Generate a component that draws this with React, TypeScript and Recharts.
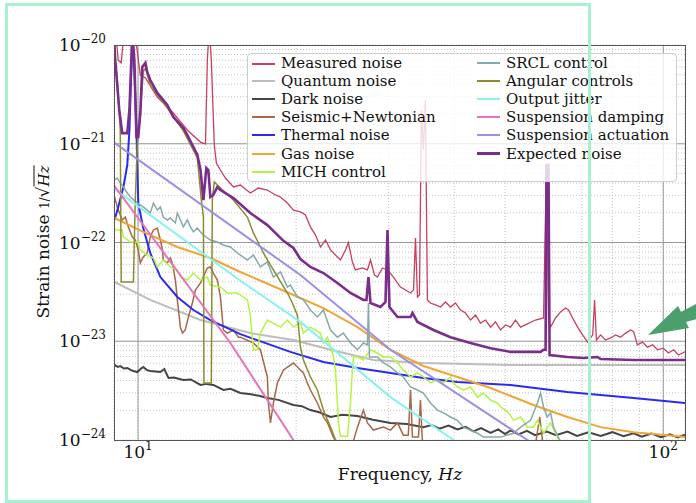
import React from 'react'
import { LineChart, Line, XAxis, YAxis, CartesianGrid, ReferenceLine } from 'recharts'

const FONT = '"DejaVu Serif", serif'

// [frequency Hz, strain 1/sqrt(Hz)]
const measured: [number, number][] = [
  [9.0, 2e-20], [9.17, 7.0e-21], [9.29, 6.6e-21], [9.42, 1.5e-20], [9.67, 3e-20], [10.1, 4.97e-21],
  [10.33, 4.63e-21], [10.88, 2.97e-21], [11.67, 2.05e-21], [12.41, 1.38e-21], [13.15, 1.04e-21],
  [13.44, 1.0e-21], [13.55, 7.0e-21], [13.67, 1.5e-20], [13.79, 7.0e-21], [13.97, 9.7e-22],
  [14.1, 6.38e-22], [14.35, 5.42e-22], [14.67, 4.5e-22], [15.19, 3.65e-22], [15.66, 3.82e-22],
  [16.36, 3.17e-22], [16.95, 3.56e-22], [17.63, 3.4e-22], [18.26, 3.03e-22], [18.67, 2.89e-22],
  [19.25, 2.51e-22], [19.76, 2.13e-22], [20.38, 2.04e-22], [20.83, 1.9e-22], [21.29, 1.44e-22],
  [21.77, 1.19e-22], [22.25, 9.0e-23], [22.75, 1.06e-22], [23.25, 8.4e-23], [23.76, 7.47e-23],
  [24.29, 6.65e-23], [24.83, 8.4e-23], [25.15, 1.0e-22], [25.59, 6.35e-23], [25.93, 5.27e-23],
  [26.74, 5.52e-23], [27.34, 5.27e-23], [27.71, 6.65e-23], [28.19, 4.69e-23], [28.56, 4.47e-23],
  [29.2, 5.52e-23], [29.85, 5.27e-23], [30.64, 4.47e-23], [31.19, 3.89e-23], [31.6, 3.54e-23],
  [32.3, 3.3e-23], [33.02, 3.08e-23], [33.46, 3.3e-23], [33.75, 1.11e-22], [34.04, 2.81e-23],
  [34.34, 2.94e-23], [34.64, 2.2e-21], [34.94, 8.64e-22], [35.25, 2.77e-21], [35.56, 2.62e-23],
  [36.04, 2.44e-23], [36.84, 2.33e-23], [37.66, 2.22e-23], [38.49, 2.5e-23], [39.35, 2.22e-23],
  [40.22, 2.44e-23], [41.11, 2.07e-23], [42.03, 1.93e-23], [42.96, 1.64e-23], [43.91, 1.84e-23],
  [44.88, 1.53e-23], [45.88, 1.64e-23], [46.9, 1.39e-23], [47.94, 1.57e-23], [49.0, 1.3e-23],
  [50.08, 1.46e-23], [51.2, 1.39e-23], [52.33, 1.64e-23], [53.5, 1.39e-23], [55.14, 1.5e-23],
  [57.11, 1.64e-23], [59.16, 1.72e-23], [59.94, 6.09e-22], [60.47, 1.64e-23], [61.02, 1.39e-23],
  [62.36, 1.72e-23], [63.76, 1.98e-23], [65.17, 2.17e-23], [66.0, 2.07e-23], [67.2, 1.72e-23],
  [68.7, 1.39e-23], [70.2, 1.16e-23], [71.8, 9.8e-24], [73.4, 1.16e-23], [74.0, 2.62e-23],
  [74.6, 1.03e-23], [76.0, 1.16e-23], [77.6, 1.03e-23], [79.4, 1.08e-23], [81.1, 1.16e-23],
  [82.95, 1.1e-23], [84.8, 1.21e-23], [86.7, 1.3e-23], [87.8, 1.25e-23], [89.3, 9.2e-24],
  [91.3, 9.8e-24], [93.3, 8.7e-24], [95.4, 9.2e-24], [97.5, 8.2e-24], [100, 8.5e-24],
  [102.3, 7.6e-24], [104.6, 8.2e-24], [106.9, 7.26e-24], [110, 7.8e-24],
]

const quantum: [number, number][] = [
  [9.02, 3.98e-23], [10.55, 2.62e-23], [13.15, 1.64e-23], [16.36, 1.21e-23], [19.76, 1.03e-23],
  [23.25, 8.2e-24], [28.06, 6.46e-24], [34.94, 6.02e-24], [51.2, 5.75e-24], [76, 5.75e-24], [110, 5.75e-24],
]

const dark: [number, number][] = [
  [9.02, 5.75e-24], [9.15, 5.5e-24], [9.25, 5.6e-24], [9.4, 5.3e-24], [9.54, 5.36e-24], [9.7, 5.1e-24],
  [9.8, 5.0e-24], [9.97, 4.88e-24], [10.1, 5.2e-24], [10.23, 5.49e-24], [10.4, 5.1e-24], [10.55, 5.0e-24],
  [10.8, 4.95e-24], [11.03, 4.88e-24], [11.22, 5.24e-24], [11.43, 4.25e-24], [11.7, 4.3e-24],
  [12.2, 4.05e-24], [12.6, 4.1e-24], [13.15, 3.61e-24], [13.5, 3.7e-24], [13.91, 3.61e-24],
  [14.54, 3.21e-24], [15.0, 3.3e-24], [15.66, 2.99e-24], [16.4, 2.9e-24], [17.0, 2.8e-24],
  [17.63, 2.66e-24], [18.5, 2.55e-24], [19.76, 2.26e-24], [20.5, 2.2e-24], [21.29, 2.01e-24],
  [22.2, 1.9e-24], [23.25, 1.71e-24], [24.5, 1.8e-24], [26.17, 1.75e-24], [28.0, 1.6e-24],
  [30.24, 1.49e-24], [32.5, 1.45e-24], [34.94, 1.35e-24], [36.2, 1.42e-24], [37.5, 1.3e-24],
  [39.0, 1.4e-24], [40.57, 1.28e-24], [42.0, 1.36e-24], [43.5, 1.22e-24], [45.0, 1.32e-24],
  [46.9, 1.18e-24], [48.5, 1.28e-24], [50.0, 1.15e-24], [51.2, 1.25e-24], [53.0, 1.14e-24],
  [55.0, 1.24e-24], [57.0, 1.12e-24], [60.0, 1.22e-24], [62.5, 1.12e-24], [65.7, 1.22e-24],
  [68.5, 1.1e-24], [72, 1.2e-24], [76, 1.1e-24], [80, 1.2e-24], [84, 1.09e-24], [87.8, 1.17e-24],
  [91, 1.08e-24], [95, 1.16e-24], [99, 1.07e-24], [103, 1.14e-24], [106.5, 1.06e-24], [110, 1.13e-24],
]

const seismic: [number, number][] = [
  [9.0, 3.03e-22], [9.13, 2.29e-22], [9.33, 1.69e-22], [9.46, 1.81e-22], [9.58, 1.44e-22],
  [9.75, 1.14e-22], [9.88, 1.06e-22], [10.01, 8.4e-23], [10.1, 6.2e-23], [10.23, 7.13e-23],
  [10.41, 7.83e-23], [10.55, 1.14e-22], [10.7, 1.34e-22], [10.88, 1.4e-22], [11.03, 1.06e-22],
  [11.13, 8.4e-23], [11.17, 6.65e-23], [11.37, 6.2e-23], [11.52, 6.97e-23], [11.62, 6.2e-23],
  [11.78, 4.17e-23], [11.88, 2.62e-23], [12.04, 1.39e-23], [12.15, 1.21e-23], [12.3, 1.3e-23],
  [12.47, 1.76e-23], [12.69, 2.44e-23], [12.86, 3.3e-23], [13.15, 3.89e-23], [13.55, 5.52e-23],
  [13.73, 5.65e-23], [13.91, 4.91e-23], [14.16, 4.17e-23], [14.35, 2.81e-23], [14.54, 1.3e-23],
  [14.8, 1.21e-23], [15.19, 1.3e-23], [15.53, 1.1e-23], [15.66, 1.1e-23], [16.58, 9.6e-24],
  [17.1, 8.2e-24], [17.63, 4.35e-24], [17.71, 2.37e-24], [17.87, 1.49e-24], [18.1, 2.37e-24],
  [18.42, 3.78e-24], [18.92, 5.12e-24], [19.76, 6.02e-24], [20.38, 5.12e-24], [20.65, 4.77e-24],
  [21.01, 3.78e-24], [21.29, 3.21e-24], [21.95, 2.37e-24], [22.54, 1.71e-24], [22.95, 1.49e-24],
  [23.55, 1.07e-24], [23.97, 9e-25], [25.59, 9e-25], [26.17, 1.35e-24], [26.86, 2.01e-24],
  [27.34, 1.49e-24], [28.06, 1.26e-24], [29.33, 1.35e-24], [30.24, 1.26e-24], [31.19, 1.49e-24],
  [32.0, 1.12e-24], [32.7, 1.12e-24], [33.02, 3.21e-24], [33.3, 1.07e-24], [34.2, 1.07e-24],
  [34.49, 2.54e-24], [34.8, 9e-25], [57.1, 9e-25], [58.2, 1.71e-24], [59.0, 9e-25],
]

const thermal: [number, number][] = [
  [9.02, 1.69e-22], [9.17, 2.29e-22], [9.38, 3.65e-22], [9.54, 6.09e-22], [9.63, 1.38e-21],
  [9.71, 5.58e-21], [9.77, 1.2e-20], [9.84, 5.58e-21], [9.93, 1.38e-21], [10.01, 2.51e-22],
  [10.23, 1.4e-22], [10.55, 7.83e-23], [11.03, 4.47e-23], [11.88, 2.81e-23], [12.75, 2.07e-23],
  [13.73, 1.64e-23], [15.66, 1.18e-23], [19.5, 7.8e-24], [22.54, 6.16e-24], [26.17, 5.36e-24],
  [30.24, 4.77e-24], [34.94, 4.25e-24], [40.57, 3.87e-24], [51.2, 3.61e-24], [65.7, 3.06e-24],
  [87.8, 2.66e-24], [110, 2.37e-24],
]

const gas: [number, number][] = [
  [9.02, 1.77e-22], [10.23, 1.28e-22], [11.88, 9.0e-23], [13.73, 6.97e-23], [15.66, 5.03e-23],
  [20.38, 2.74e-23], [22.54, 2.17e-23], [26.17, 1.39e-23], [30.24, 8.2e-24], [34.94, 5.62e-24],
  [40.57, 4.35e-24], [46.9, 3.36e-24], [56.6, 2.26e-24], [65.7, 1.71e-24], [76, 1.35e-24],
  [87.8, 1.2e-24], [101.9, 1.12e-24], [110, 1.07e-24],
]

const mich: [number, number][] = [
  [9.02, 1.34e-22], [9.33, 1.34e-22], [9.38, 1.14e-22], [9.67, 1.01e-22], [10.0, 1.01e-22],
  [10.1, 8.4e-23], [10.41, 7.47e-23], [10.7, 6.97e-23], [10.88, 5.65e-23], [11.17, 6.65e-23],
  [11.52, 5.65e-23], [11.88, 5.27e-23], [12.04, 4.47e-23], [12.41, 4.17e-23], [12.75, 4.91e-23],
  [13.15, 4.17e-23], [13.55, 4.47e-23], [13.73, 3.71e-23], [14.35, 3.54e-23], [14.8, 3.08e-23],
  [15.46, 3.08e-23], [15.66, 2.94e-23], [16.15, 2.62e-23], [16.36, 1.84e-23], [16.58, 8.2e-24],
  [16.88, 8.2e-24], [17.1, 1.21e-23], [17.63, 1.64e-23], [18.67, 1.39e-23], [19.25, 1.64e-23],
  [19.76, 1.39e-23], [20.38, 1.53e-23], [20.65, 1.21e-23], [21.29, 1.39e-23], [22.25, 1.21e-23],
  [22.54, 9.6e-24], [22.95, 1.1e-23], [23.25, 8.7e-24], [23.55, 6.93e-24], [23.76, 5.12e-24],
  [23.97, 2.37e-24], [24.08, 1.49e-24], [24.29, 1.09e-24], [25.05, 1.09e-24], [25.38, 2.37e-24],
  [25.59, 5.12e-24], [25.7, 6.93e-24], [26.17, 6.93e-24], [26.86, 6.46e-24], [27.71, 8.2e-24],
  [28.56, 7.6e-24], [29.33, 6.93e-24], [30.24, 6.93e-24], [31.19, 6.02e-24], [32.0, 5.12e-24],
  [33.02, 4.35e-24], [34.04, 4.77e-24], [34.94, 4.35e-24], [36.04, 3.78e-24], [37.16, 4.05e-24],
  [38.15, 3.78e-24], [39.35, 4.35e-24], [39.87, 3.78e-24], [40.57, 3.44e-24], [41.65, 3.21e-24],
  [42.96, 3.44e-24], [44.3, 2.72e-24], [45.46, 2.99e-24], [46.9, 2.54e-24], [48.35, 2.37e-24],
  [49.0, 2.17e-24], [50.8, 1.88e-24], [51.87, 1.58e-24], [53.5, 1.71e-24], [55.14, 1.35e-24],
  [56.6, 1.35e-24], [57.6, 1.58e-24], [59.16, 1.17e-24], [61.02, 1.49e-24], [62.9, 1.07e-24],
  [63.76, 9e-25],
]

const srcl: [number, number][] = [
  [9.02, 4.3e-22], [9.13, 4.5e-22], [9.25, 4.0e-22], [9.38, 3.65e-22], [9.54, 3.17e-22],
  [9.67, 2.89e-22], [9.97, 2.51e-22], [10.23, 2.29e-22], [10.41, 2.13e-22], [10.55, 1.99e-22],
  [10.7, 2.51e-22], [10.88, 2.13e-22], [11.03, 2.29e-22], [11.17, 1.81e-22], [11.37, 1.69e-22],
  [11.52, 1.77e-22], [11.78, 1.58e-22], [11.88, 1.99e-22], [12.04, 1.69e-22], [12.2, 1.44e-22],
  [12.41, 1.69e-22], [12.58, 1.44e-22], [12.75, 1.28e-22], [12.97, 1.4e-22], [13.15, 1.28e-22],
  [13.32, 1.19e-22], [13.73, 1.06e-22], [14.16, 1.01e-22], [14.54, 9.43e-23], [14.99, 9.0e-23],
  [15.46, 7.83e-23], [16.15, 6.65e-23], [16.58, 7.47e-23], [17.1, 5.65e-23], [17.63, 6.35e-23],
  [18.1, 4.47e-23], [18.67, 5.03e-23], [19.25, 3.54e-23], [19.5, 3.71e-23], [20.11, 2.81e-23],
  [20.65, 2.62e-23], [21.29, 2.07e-23], [21.95, 1.76e-23], [22.54, 2.07e-23], [23.25, 1.3e-23],
  [23.97, 1.1e-23], [24.6, 1.21e-23], [25.38, 9.6e-24], [26.17, 8.2e-24], [26.86, 9.6e-24],
  [27.34, 9.2e-24], [27.46, 2.44e-23], [27.58, 6.93e-24], [28.56, 6.93e-24], [29.33, 6.02e-24],
  [30.24, 5.49e-24], [31.19, 4.77e-24], [32.0, 4.35e-24], [33.02, 3.44e-24], [34.04, 3.21e-24],
  [34.94, 2.99e-24], [36.04, 2.37e-24], [37.16, 2.01e-24], [38.15, 1.88e-24], [39.35, 1.71e-24],
  [40.57, 1.58e-24], [41.65, 1.35e-24], [42.96, 1.26e-24], [44.3, 1.17e-24], [45.46, 1.07e-24],
  [46.9, 1.07e-24], [49.0, 1.07e-24], [51.87, 1.17e-24], [53.5, 1.35e-24], [55.9, 1.58e-24],
  [57.6, 2.37e-24], [58.4, 2.99e-24], [59.16, 2.17e-24], [60.1, 1.71e-24], [61.02, 1.88e-24],
  [61.8, 1.35e-24], [63.1, 1.07e-24], [64.2, 9e-25],
]

const angular: [number, number][] = [
  [9.02, 7.9e-21], [9.13, 4.4e-21], [9.25, 1.38e-21], [9.29, 3.98e-23], [9.8, 3.98e-23],
  [9.88, 2.69e-22], [9.97, 9.7e-22], [10.1, 1.95e-21], [10.23, 5.33e-21], [10.33, 5.85e-21],
  [10.55, 3.94e-21], [11.37, 2.3e-21], [12.2, 1.35e-21], [12.97, 7.17e-22], [13.2, 2.69e-22],
  [13.32, 1.81e-22], [13.35, 3.78e-24], [13.79, 3.78e-24], [13.85, 2.69e-22], [13.97, 4.1e-22],
  [14.16, 3.82e-22], [15.19, 2.69e-22], [16.15, 1.81e-22], [16.58, 1.25e-22], [17.33, 7.83e-23],
  [18.1, 5.27e-23], [19.25, 3.08e-23], [19.67, 2.44e-23], [20.11, 1.84e-23], [20.38, 8.7e-24],
  [20.65, 6.46e-24], [21.29, 4.35e-24], [21.95, 3.21e-24], [22.54, 2.01e-24], [23.25, 1.35e-24],
  [23.97, 9e-25],
]

const jitter: [number, number][] = [
  [9.02, 3.48e-22], [15.66, 4.1e-23], [20.38, 1.57e-23], [30.24, 2.72e-24], [39.87, 1.0e-24], [41.1, 8.9e-25],
]

const damping: [number, number][] = [
  [9.02, 3.73e-22], [14.99, 9.6e-24], [19.76, 1.0e-24], [20.38, 7.9e-25],
]

const actuation: [number, number][] = [
  [9.02, 1.02e-21], [20.38, 4.69e-23], [30.24, 8.2e-24], [55.14, 1.0e-24], [57.1, 8.7e-25],
]

const expected: [number, number][] = [
  [9.0, 1.2e-20], [9.05, 7.0e-21], [9.21, 2.2e-21], [9.33, 1.28e-21], [9.54, 1.28e-21],
  [9.63, 2.2e-21], [9.71, 7e-21], [9.75, 1.3e-20], [9.84, 7e-21], [9.93, 1.17e-21],
  [10.01, 1.17e-21], [10.1, 2.05e-21], [10.19, 5.99e-21], [10.33, 6.6e-21], [10.41, 5.33e-21],
  [10.55, 4.42e-21], [10.88, 3.27e-21], [11.37, 2.47e-21], [11.67, 1.87e-21], [12.2, 1.44e-21],
  [12.41, 1.23e-21], [12.97, 7.69e-22], [13.15, 5.42e-22], [13.32, 2.69e-22], [13.49, 5.68e-22],
  [13.61, 5.42e-22], [13.73, 2.89e-22], [13.91, 3.03e-22], [14.16, 3.65e-22], [14.35, 3.4e-22],
  [15.19, 2.82e-22], [16.36, 1.99e-22], [17.63, 1.5e-22], [18.92, 1.04e-22], [19.76, 8.8e-23],
  [20.38, 6.8e-23], [21.29, 5.65e-23], [22.54, 4.91e-23], [23.97, 3.89e-23], [25.38, 3.08e-23],
  [26.86, 2.62e-23], [27.22, 2.62e-23], [27.46, 4.47e-23], [27.71, 2.44e-23], [28.94, 2.22e-23],
  [29.59, 2.5e-23], [29.85, 1.34e-22], [30.11, 2.22e-23], [31.19, 1.76e-23], [33.02, 1.76e-23],
  [33.31, 1.93e-23], [34.04, 1.57e-23], [36.52, 1.3e-23], [39.35, 1.1e-23], [42.96, 9.6e-24],
  [46.9, 8.5e-24], [51.2, 7.8e-24], [58.4, 7.8e-24], [59.16, 8.2e-24], [59.7, 8.2e-24],
  [59.94, 6.09e-22], [60.47, 6.09e-22], [60.75, 7.26e-24], [65.73, 6.93e-24], [70.5, 6.77e-24],
  [74.97, 6.93e-24], [75.98, 6.61e-24], [87.8, 6.46e-24], [110, 6.46e-24],
]

const xMajor = [10, 100]
const xMinor = [20, 30, 40, 50, 60, 70, 80, 90]
const yMajor = [1e-24, 1e-23, 1e-22, 1e-21, 1e-20]
const yMinor = yMajor.slice(0, -1).flatMap((d) => [2, 3, 4, 5, 6, 7, 8, 9].map((k) => k * d))

const series = [
  { name: 'Measured noise', data: measured, color: '#c8405f', width: 1.3 },
  { name: 'Quantum noise', data: quantum, color: '#bdbdbd', width: 2 },
  { name: 'Dark noise', data: dark, color: '#454545', width: 2 },
  { name: 'Seismic+Newtonian', data: seismic, color: '#a5694a', width: 1.5 },
  { name: 'Thermal noise', data: thermal, color: '#2b2bf0', width: 2 },
  { name: 'Gas noise', data: gas, color: '#f0a535', width: 2 },
  { name: 'MICH control', data: mich, color: '#b4f542', width: 1.5 },
  { name: 'SRCL control', data: srcl, color: '#86aaaa', width: 1.5 },
  { name: 'Angular controls', data: angular, color: '#8c8c2e', width: 1.5 },
  { name: 'Output jitter', data: jitter, color: '#88f2f2', width: 2 },
  { name: 'Suspension damping', data: damping, color: '#e674bb', width: 2 },
  { name: 'Suspension actuation', data: actuation, color: '#9d8fe2', width: 2 },
  { name: 'Expected noise', data: expected, color: '#7b2d8b', width: 2.6 },
]

const toPts = (a: [number, number][]) => a.map(([f, v]) => ({ f, v }))

const isDecade = (v: number) => {
  const e = Math.round(Math.log10(v))
  return Math.abs(v / Math.pow(10, e) - 1) < 1e-6
}

const XTick = (props: any) => {
  const { x, y, payload } = props
  if (!isDecade(payload.value)) return <g />
  const e = Math.round(Math.log10(payload.value))
  return (
    <text x={x} y={y + 18} textAnchor="middle" fontFamily={FONT} fontSize={17} fill="#111">
      10<tspan dy={-8} fontSize={12}>{e}</tspan>
    </text>
  )
}

const YTick = (props: any) => {
  const { x, y, payload } = props
  if (!isDecade(payload.value)) return <g />
  const e = Math.round(Math.log10(payload.value))
  return (
    <text x={x - 8} y={y + 6} textAnchor="end" fontFamily={FONT} fontSize={17} fill="#111">
      10<tspan dy={-8} fontSize={12}>{'\u2212' + Math.abs(e)}</tspan>
    </text>
  )
}

export default function App() {
  const col1 = series.slice(0, 7)
  const col2 = series.slice(7)
  return (
    <div style={{ position: 'absolute', left: 0, top: 0, width: 696, height: 503, background: '#fff', overflow: 'hidden', fontFamily: FONT }}>
      <LineChart width={696} height={503} margin={{ top: 45, right: 11, left: 14, bottom: 0 }}>
        <CartesianGrid stroke="#c4c4c4" strokeDasharray="1 2" />
        <XAxis
          dataKey="f"
          type="number"
          scale="log"
          domain={[9, 110]}
          allowDataOverflow
          ticks={[...xMajor, ...xMinor]}
          interval={0}
          tick={<XTick />}
          tickSize={0}
          tickMargin={0}
          axisLine={false}
          tickLine={false}
          height={63}
        />
        <YAxis
          type="number"
          scale="log"
          domain={[1e-24, 1e-20]}
          allowDataOverflow
          ticks={[...yMajor, ...yMinor]}
          interval={0}
          tick={<YTick />}
          tickSize={0}
          tickMargin={0}
          axisLine={false}
          tickLine={false}
          width={100}
        />
        {xMajor.map((v) => (
          <ReferenceLine key={'x' + v} x={v} stroke="#9a9a9a" strokeWidth={1} />
        ))}
        {yMajor.slice(1, -1).map((v) => (
          <ReferenceLine key={'y' + v} y={v} stroke="#9a9a9a" strokeWidth={1} />
        ))}
        {series.map((s) => (
          <Line
            key={s.name}
            name={s.name}
            data={toPts(s.data)}
            dataKey="v"
            type="linear"
            stroke={s.color}
            strokeWidth={s.width}
            dot={false}
            activeDot={false}
            isAnimationActive={false}
          />
        ))}
      </LineChart>

      {/* axes frame */}
      <div style={{ position: 'absolute', left: 114, top: 45, width: 572, height: 396, border: '1px solid #555', boxSizing: 'border-box' }} />

      {/* legend */}
      <div style={{ position: 'absolute', left: 247, top: 53, width: 430, height: 129, background: 'rgba(255,255,255,0.8)', border: '1px solid #cfcfcf', borderRadius: 4, boxSizing: 'border-box' }}>
        {[col1, col2].map((col, ci) =>
          col.map((s, i) => (
            <div key={s.name} style={{ position: 'absolute', left: ci === 0 ? 4 : 229, top: i * 18.1, height: 18, width: 200, whiteSpace: 'nowrap' }}>
              <div style={{ position: 'absolute', left: 0, top: 9 - Math.round(s.width) / 2, width: 23, height: Math.max(2, Math.round(s.width)), background: s.color }} />
              <span style={{ position: 'absolute', left: 29, top: 0, fontSize: 15, color: '#111', lineHeight: '18px' }}>{s.name}</span>
            </div>
          ))
        )}
      </div>

      {/* y label */}
      <div style={{ position: 'absolute', left: 43, top: 242, transform: 'translate(-50%,-50%) rotate(-90deg)', whiteSpace: 'nowrap', fontSize: 17, color: '#111', lineHeight: 1 }}>
        Strain noise <span style={{ fontSize: 12 }}>1/</span>
        <span>{'\u221A'}</span>
        <span style={{ fontStyle: 'italic', borderTop: '1px solid #111', fontSize: 15 }}>Hz</span>
      </div>

      {/* x label */}
      <div style={{ position: 'absolute', left: 400, top: 474, transform: 'translate(-50%,-50%)', whiteSpace: 'nowrap', fontSize: 17, color: '#111', lineHeight: 1 }}>
        Frequency, <span style={{ fontStyle: 'italic' }}>Hz</span>
      </div>

      {/* annotation overlay */}
      <div style={{ position: 'absolute', left: 5, top: 3, width: 586, height: 500, border: '3px solid #a9f0cf', boxSizing: 'border-box' }} />
      <svg width={696} height={503} style={{ position: 'absolute', left: 0, top: 0, pointerEvents: 'none' }}>
        <polygon points="648,335 678,306 681,312 700,302 700,318 686,322 689,328" fill="#4a9f6c" />
      </svg>
    </div>
  )
}
